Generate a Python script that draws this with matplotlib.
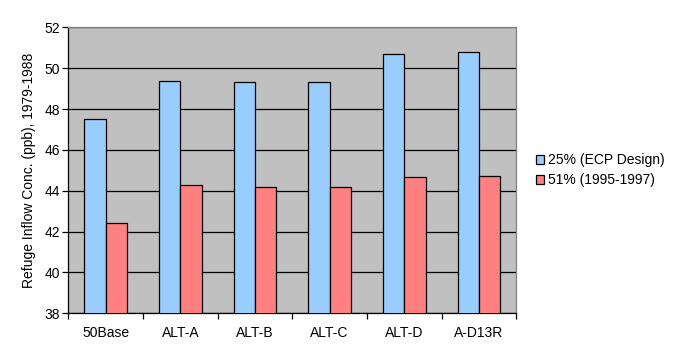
import matplotlib
matplotlib.use("Agg")
import matplotlib.pyplot as plt
import numpy as np

categories = ["50Base", "ALT-A", "ALT-B", "ALT-C", "ALT-D", "A-D13R"]
ecp_design = [47.5, 49.36, 49.31, 49.31, 50.68, 50.78]
obs_9597 = [42.4, 44.27, 44.2, 44.2, 44.66, 44.7]
series_names = ["25% (ECP Design)", "51% (1995-1997)"]

plt.rcParams["font.family"] = ["Liberation Sans", "DejaVu Sans"]
plt.rcParams["font.size"] = 10

fig = plt.figure(figsize=(6.75, 3.6), dpi=100)
ax = fig.add_axes([0.1012, 0.1297, 0.6637, 0.7944])
ax.set_facecolor("#C0C0C0")

x = np.arange(len(categories))
w = 1 / 3.5
ax.bar(x - w / 2, ecp_design, w, color="#99CCFF", edgecolor="black", lw=0.9,
       label=series_names[0], zorder=3)
ax.bar(x + w / 2, obs_9597, w, color="#FF8080", edgecolor="black", lw=0.9,
       label=series_names[1], zorder=3)

ax.set_xlim(-0.5, len(categories) - 0.5)
ax.set_ylim(38, 52)
ax.set_yticks(range(38, 53, 2))
ax.yaxis.grid(True, color="black", lw=0.9, zorder=1)
ax.set_axisbelow(True)

# category labels centred, tick marks on category boundaries
ax.set_xticks(x)
ax.set_xticklabels(categories)
ax.tick_params(axis="x", length=0, pad=9)
ax.set_xticks(np.arange(-0.5, len(categories)), minor=True)
ax.tick_params(axis="x", which="minor", length=4, width=0.9, direction="out")
ax.tick_params(axis="y", length=4, width=0.9, direction="out", pad=2)

for s in ["left", "bottom"]:
    ax.spines[s].set_color("black")
    ax.spines[s].set_linewidth(0.9)
for s in ["top", "right"]:
    ax.spines[s].set_color("#808080")
    ax.spines[s].set_linewidth(0.9)

ax.set_ylabel("Refuge Inflow Conc. (ppb), 1979-1988", labelpad=6)

ax.legend(loc="center left", bbox_to_anchor=(1.015, 0.5), frameon=False,
          handlelength=0.6, handleheight=0.6, handletextpad=0.3,
          labelspacing=0.45)

fig.savefig("out.png", dpi=100)
